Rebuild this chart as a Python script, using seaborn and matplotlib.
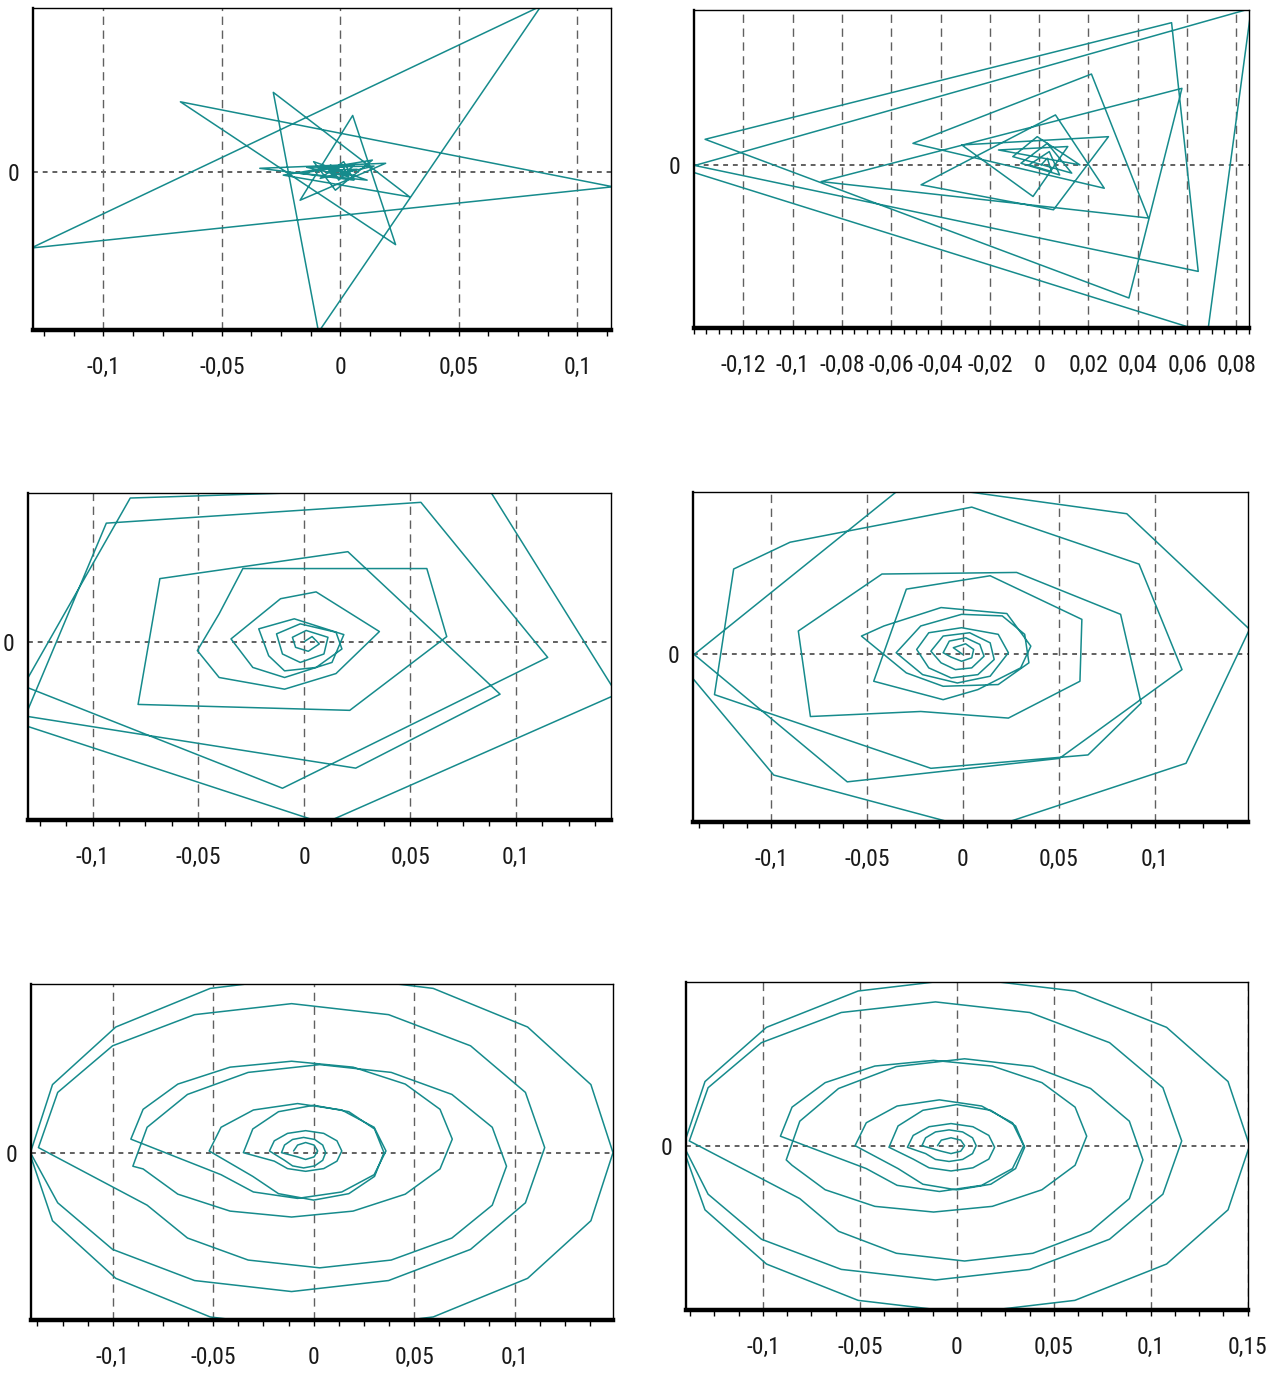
import matplotlib
matplotlib.use("Agg")
import matplotlib.pyplot as plt
import pandas as pd
import seaborn as sns
from matplotlib.ticker import FixedLocator, MultipleLocator

sns.set_theme(style="white")
plt.rcParams["font.family"] = ["Roboto Condensed", "DejaVu Sans"]

TEAL = "#168b8c"
GRID = "#606060"

# ---- phase trajectories -------------------------------------------------
# panel 1: star-shaped excursion
p1_x = [0.0, -0.0050, 0.0071, -0.0042, 0.0007, 0.0035, -0.0142, 0.0142, -0.0085, 0.0014,
        0.0057, -0.0340, 0.0191, -0.0170, 0.0052, 0.0233, -0.0675, 0.1150, -0.1305, 0.0847,
        -0.0092, -0.0283, 0.0292, -0.0241, 0.0135, -0.0021, -0.0113, 0.0113, -0.0170, 0.0057,
        -0.0007, -0.0042, 0.0042, -0.0057, 0.0]
p1_y = [0.0, 0.0008, 0.0012, -0.0020, 0.0033, -0.0025, 0.0022, 0.0028, -0.0033, 0.0050,
        -0.0042, 0.0017, 0.0042, -0.0142, 0.0280, -0.0363, 0.0348, -0.0075, -0.0380, 0.0825,
        -0.0798, 0.0395, -0.0125, -0.0017, 0.0058, -0.0092, 0.0050, -0.0042, -0.0008, 0.0033,
        -0.0042, 0.0033, -0.0017, -0.0003, 0.0005]

# panel 2: triangular spiral
p2_x = [0.0008, 0.0033, 0.0050, -0.0041, 0.0041, 0.0083, -0.0074, 0.0033, 0.0132, -0.0107,
        -0.0008, 0.0165, -0.0165, 0.0116, -0.0025, -0.0314, 0.0281, 0.0058, -0.0479, 0.0066,
        0.0264, -0.0512, 0.0212, 0.0443, -0.0884, 0.0579, 0.0364, -0.1355, 0.0537, 0.0645,
        -0.1397, 0.0860, 0.0683, -0.1455]
p2_y = [0.0, 0.0033, -0.0033, 0.0, 0.0066, -0.0050, 0.0008, 0.0107, -0.0041, 0.0041,
        0.0140, 0.0, 0.0074, 0.0091, -0.0157, 0.0099, 0.0140, -0.0223, -0.0099, 0.0248,
        -0.0116, 0.0107, 0.0451, -0.0264, -0.0083, 0.0380, -0.0661, 0.0127, 0.0706, -0.0529,
        -0.0003, 0.0777, -0.0835, -0.0017]

# panel 3: pentagonal spiral
p3_x = [0.0, 0.0037, 0.0071, 0.0019, -0.0041, -0.0056, 0.0009, 0.0112, 0.0093, -0.0019,
        -0.0103, -0.0131, -0.0019, 0.0150, 0.0178, 0.0056, -0.0093, -0.0168, -0.0215, -0.0047,
        0.0187, 0.0131, -0.0093, -0.0243, -0.0346, -0.0112, 0.0056, 0.0355, 0.0150, -0.0093,
        -0.0402, -0.0505, -0.0402, -0.0290, 0.0579, 0.0673, 0.0215, -0.0785, -0.0682, 0.0206,
        0.0925, 0.0243, -0.1318, -0.0935, 0.0551, 0.1150, -0.0103, -0.1327, -0.0822, 0.0430,
        0.0869, 0.1477, 0.0093, -0.1383]
p3_y = [0.0, 0.0028, -0.0013, -0.0054, -0.0032, 0.0024, 0.0062, 0.0024, -0.0069, -0.0116,
        -0.0069, 0.0043, 0.0099, 0.0052, -0.0041, -0.0144, -0.0163, -0.0079, 0.0071, 0.0127,
        0.0039, -0.0116, -0.0200, -0.0144, 0.0015, 0.0239, 0.0277, 0.0056, -0.0178, -0.0265,
        -0.0200, -0.0050, 0.0155, 0.0407, 0.0407, 0.0028, -0.0383, -0.0350, 0.0351, 0.0501,
        -0.0293, -0.0705, -0.0415, 0.0660, 0.0776, -0.0088, -0.0817, -0.0247, 0.0800, 0.0847,
        0.0856, -0.0293, -0.1013, -0.0443]

# panel 4: octagonal spiral
p4_x = [0.0, -0.0049, 0.0015, 0.0057, 0.0047, -0.0006, -0.0060,
        -0.0102, -0.0070, 0.0015, 0.0089, 0.0111, 0.0047, -0.0038, -0.0113,
        -0.0166, -0.0102, 0.0036, 0.0143, 0.0164, 0.0079, -0.0060, -0.0177,
        -0.0240, -0.0177, -0.0006, 0.0185, 0.0238, 0.0143, -0.0028, -0.0209,
        -0.0347, -0.0219, -0.0006, 0.0206, 0.0323, 0.0345, 0.0185, -0.0102, -0.0294,
        -0.0528, -0.0411, -0.0113, 0.0230, 0.0355, 0.0302, 0.0079, -0.0102, -0.0464,
        -0.0294, 0.0143, 0.0621, 0.0611, 0.0238, -0.0219,
        -0.0794, -0.0857, -0.0421, 0.0281, 0.0823, 0.0930, 0.0653, -0.0166,
        -0.1294, -0.1194, -0.0900, 0.0047, 0.0919, 0.1143, 0.0504, -0.0602,
        -0.1400, -0.0326, -0.0091, 0.0855, 0.1495, 0.1164, 0.0185, -0.0006, -0.0985, -0.1453]
p4_y = [0.0, 0.0043, 0.0068, 0.0032, -0.0021, -0.0043, -0.0017,
        0.0011, 0.0085, 0.0106, 0.0064, -0.0011, -0.0085, -0.0096, -0.0053,
        0.0021, 0.0117, 0.0138, 0.0074, -0.0032, -0.0128, -0.0149, -0.0085,
        0.0032, 0.0138, 0.0170, 0.0128, 0.0011, -0.0138, -0.0181, -0.0128,
        0.0011, 0.0181, 0.0255, 0.0245, 0.0128, -0.0053, -0.0191, -0.0202, -0.0117,
        0.0117, 0.0181, 0.0298, 0.0260, 0.0053, -0.0085, -0.0223, -0.0287, -0.0170,
        0.0415, 0.0500, 0.0223, -0.0170, -0.0404, -0.0362,
        -0.0394, 0.0149, 0.0511, 0.0521, 0.0255, -0.0309, -0.0638, -0.0723,
        -0.0255, 0.0543, 0.0713, 0.0936, 0.0574, -0.0096, -0.0660, -0.0809,
        0.0, 0.1053, 0.1053, 0.0894, 0.0160, -0.0691, -0.1085, -0.1085, -0.0766, -0.0085]

# panel 5: elliptic spiral
p5_x = [-0.010, -0.008, -0.004, 0.0002, 0.002, 0.0002, -0.004, -0.008,
        -0.016, -0.0145, -0.0105, -0.005, 0.0005, 0.0045, 0.006, 0.0045, 0.0005, -0.005, -0.0105, -0.0145,
        -0.022, -0.0196, -0.013, -0.004, 0.005, 0.0116, 0.014, 0.0116, 0.005, -0.004, -0.013, -0.0196,
        -0.035, -0.0303, -0.0175, 0.0, 0.0175, 0.0303, 0.035, 0.0303, 0.0175, 0.0, -0.0175, -0.0303,
        -0.052, -0.0461, -0.030, -0.008, 0.014, 0.0301, 0.036, 0.0301, 0.014, -0.008, -0.030, -0.0461,
        -0.091, -0.0849, -0.0676, -0.0416, -0.011, 0.0196, 0.0456, 0.0629, 0.069, 0.0629, 0.0456, 0.0196,
        -0.011, -0.0416, -0.0676, -0.0849,
        -0.090, -0.0829, -0.0628, -0.0326, 0.003, 0.0386, 0.0688, 0.0889, 0.096, 0.0889, 0.0688, 0.0386,
        0.003, -0.0326, -0.0628, -0.0829,
        -0.137, -0.1274, -0.1001, -0.0593, -0.011, 0.0373, 0.0781, 0.1054, 0.115, 0.1054, 0.0781, 0.0373,
        -0.011, -0.0593, -0.1001, -0.1274,
        -0.141, -0.130, -0.0985, -0.0515, 0.004, 0.0595, 0.1065, 0.138, 0.149, 0.138, 0.1065, 0.0595,
        0.004, -0.0515, -0.0985, -0.130, -0.142]
p5_y = [0.001, 0.0045, 0.006, 0.0045, 0.001, -0.0025, -0.004, -0.0025,
        0.0, 0.0045, 0.0078, 0.009, 0.0078, 0.0045, 0.0, -0.0045, -0.0078, -0.009, -0.0078, -0.0045,
        0.001, 0.007, 0.0114, 0.013, 0.0114, 0.007, 0.001, -0.005, -0.0094, -0.011, -0.0094, -0.005,
        0.0, 0.014, 0.0242, 0.028, 0.0242, 0.014, 0.0, -0.014, -0.0242, -0.028, -0.0242, -0.014,
        0.001, 0.015, 0.0252, 0.029, 0.0252, 0.015, 0.001, -0.013, -0.0232, -0.027, -0.0232, -0.013,
        0.008, 0.0256, 0.0405, 0.0505, 0.054, 0.0505, 0.0405, 0.0256, 0.008, -0.0096, -0.0245, -0.0345,
        -0.038, -0.0345, -0.0245, -0.0096,
        -0.008, 0.015, 0.0344, 0.0474, 0.052, 0.0474, 0.0344, 0.015, -0.008, -0.031, -0.0504, -0.0634,
        -0.068, -0.0634, -0.0504, -0.031,
        0.003, 0.0356, 0.0631, 0.0815, 0.088, 0.0815, 0.0631, 0.0356, 0.003, -0.0296, -0.0571, -0.0755,
        -0.082, -0.0755, -0.0571, -0.0296,
        0.0, 0.0402, 0.0742, 0.097, 0.105, 0.097, 0.0742, 0.0402, 0.0, -0.0402, -0.0742, -0.097,
        -0.105, -0.097, -0.0742, -0.0402, 0.002]

# panel 6: elliptic spiral
p6_x = [-0.010, -0.008, -0.003, 0.002, 0.004, 0.002, -0.003, -0.008,
        -0.018, -0.0161, -0.011, -0.004, 0.003, 0.0081, 0.010, 0.0081, 0.003, -0.004, -0.011, -0.0161,
        -0.0255, -0.0225, -0.0143, -0.003, 0.0083, 0.0165, 0.0195, 0.0165, 0.0083, -0.003, -0.0143, -0.0225,
        -0.035, -0.0303, -0.0175, 0.0, 0.0175, 0.0303, 0.035, 0.0303, 0.0175, 0.0, -0.0175, -0.0303,
        -0.0525, -0.0467, -0.0308, -0.009, 0.0128, 0.0287, 0.0345, 0.0287, 0.0128, -0.009, -0.0308, -0.0467,
        -0.091, -0.085, -0.0679, -0.0423, -0.012, 0.0183, 0.0439, 0.061, 0.067, 0.061, 0.0439, 0.0183,
        -0.012, -0.0423, -0.0679, -0.085,
        -0.088, -0.081, -0.061, -0.0312, 0.004, 0.0392, 0.069, 0.089, 0.096, 0.089, 0.069, 0.0392,
        0.004, -0.0312, -0.061, -0.081,
        -0.138, -0.1283, -0.1008, -0.0596, -0.011, 0.0376, 0.0788, 0.1063, 0.116, 0.1063, 0.0788, 0.0376,
        -0.011, -0.0596, -0.1008, -0.1283,
        -0.141, -0.1299, -0.0982, -0.0509, 0.005, 0.0609, 0.1082, 0.1399, 0.151, 0.1399, 0.1082, 0.0609,
        0.005, -0.0509, -0.0982, -0.1299, -0.142]
p6_y = [0.0, 0.0035, 0.005, 0.0035, 0.0, -0.0035, -0.005, -0.0035,
        0.0, 0.005, 0.0087, 0.010, 0.0087, 0.005, 0.0, -0.005, -0.0087, -0.010, -0.0087, -0.005,
        -0.001, 0.0065, 0.012, 0.014, 0.012, 0.0065, -0.001, -0.0085, -0.014, -0.016, -0.014, -0.0085,
        -0.001, 0.0125, 0.0224, 0.026, 0.0224, 0.0125, -0.001, -0.0145, -0.0244, -0.028, -0.0244, -0.0145,
        0.0, 0.0145, 0.0251, 0.029, 0.0251, 0.0145, 0.0, -0.0145, -0.0251, -0.029, -0.0251, -0.0145,
        0.006, 0.0244, 0.0399, 0.0504, 0.054, 0.0504, 0.0399, 0.0244, 0.006, -0.0124, -0.0279, -0.0384,
        -0.042, -0.0384, -0.0279, -0.0124,
        -0.009, 0.0155, 0.0362, 0.0501, 0.055, 0.0501, 0.0362, 0.0155, -0.009, -0.0335, -0.0542, -0.0681,
        -0.073, -0.0681, -0.0542, -0.0335,
        0.003, 0.0367, 0.0652, 0.0843, 0.091, 0.0843, 0.0652, 0.0367, 0.003, -0.0307, -0.0592, -0.0783,
        -0.085, -0.0783, -0.0592, -0.0307,
        0.0, 0.0406, 0.0749, 0.0979, 0.106, 0.0979, 0.0749, 0.0406, 0.0, -0.0406, -0.0749, -0.0979,
        -0.106, -0.0979, -0.0749, -0.0406, 0.001]

# ---- axis ticks ---------------------------------------------------------
ticks_std = [-0.1, -0.05, 0.0, 0.05, 0.1]
labels_std = ["-0,1", "-0,05", "0", "0,05", "0,1"]
ticks_fine = [-0.12, -0.1, -0.08, -0.06, -0.04, -0.02, 0.0, 0.02, 0.04, 0.06, 0.08]
labels_fine = ["-0,12", "-0,1", "-0,08", "-0,06", "-0,04", "-0,02", "0", "0,02", "0,04", "0,06", "0,08"]
ticks_wide = [-0.1, -0.05, 0.0, 0.05, 0.1, 0.15]
labels_wide = ["-0,1", "-0,05", "0", "0,05", "0,1", "0,15"]

W, H = 1279, 1378
fig = plt.figure(figsize=(W / 100, H / 100), dpi=100)
fig.patch.set_facecolor("white")

# (left, top, right, bottom) frame in pixels, view limits, ticks
panels = [
    ((33, 8, 611, 330), (-0.1297, 0.1142), (-0.0788, 0.0815), p1_x, p1_y, ticks_std, labels_std, 0.0125),
    ((694, 10, 1249, 328), (-0.1400, 0.0851), (-0.0810, 0.0769), p2_x, p2_y, ticks_fine, labels_fine, 0.005),
    ((28, 493, 611, 820), (-0.1305, 0.1449), (-0.0994, 0.0828), p3_x, p3_y, ticks_std, labels_std, 0.0125),
    ((693, 492, 1248, 822), (-0.1406, 0.1487), (-0.1064, 0.1032), p4_x, p4_y, ticks_std, labels_std, 0.0125),
    ((31, 984, 613, 1320), (-0.1407, 0.1490), (-0.0988, 0.0996), p5_x, p5_y, ticks_std, labels_std, 0.0125),
    ((686, 982, 1248, 1310), (-0.1397, 0.1502), (-0.1040, 0.1036), p6_x, p6_y, ticks_wide, labels_wide, 0.0125),
]

for (l, t, r, b), xlim, ylim, xs, ys, ticks, labels, minor in panels:
    ax = fig.add_axes([l / W, 1 - b / H, (r - l) / W, (b - t) / H])
    ax.set_facecolor("white")
    df = pd.DataFrame({"x": xs, "y": ys})
    sns.lineplot(data=df, x="x", y="y", sort=False, estimator=None, ax=ax,
                 color=TEAL, linewidth=1.1, zorder=3)
    ax.set_xlim(*xlim)
    ax.set_ylim(*ylim)
    ax.set_xlabel("")
    ax.set_ylabel("")

    # dashed verticals at the labelled values, dotted zero line
    for xv in ticks:
        ax.axvline(xv, color=GRID, lw=1.0, linestyle=(0, (6, 4)), zorder=1)
    ax.axhline(0, color=GRID, lw=1.4, linestyle=(0, (2.5, 2.5)), zorder=1)

    ax.xaxis.set_major_locator(FixedLocator(ticks))
    ax.set_xticklabels(labels)
    ax.xaxis.set_minor_locator(MultipleLocator(minor))
    ax.set_yticks([0.0])
    ax.set_yticklabels(["0"])
    ax.tick_params(axis="x", which="both", bottom=True, direction="out", length=4.5,
                   width=1.0, color="black", labelsize=17, pad=14, labelcolor="#1a1a1a")
    ax.tick_params(axis="y", which="both", left=True, length=0, labelsize=17, pad=10,
                   labelcolor="#1a1a1a")

    for side, lw in (("left", 1.7), ("top", 1.0), ("right", 1.0), ("bottom", 3.2)):
        ax.spines[side].set_visible(True)
        ax.spines[side].set_color("black")
        ax.spines[side].set_linewidth(lw)
        ax.spines[side].set_zorder(5)

fig.savefig("out.png", dpi=100, facecolor="white")
